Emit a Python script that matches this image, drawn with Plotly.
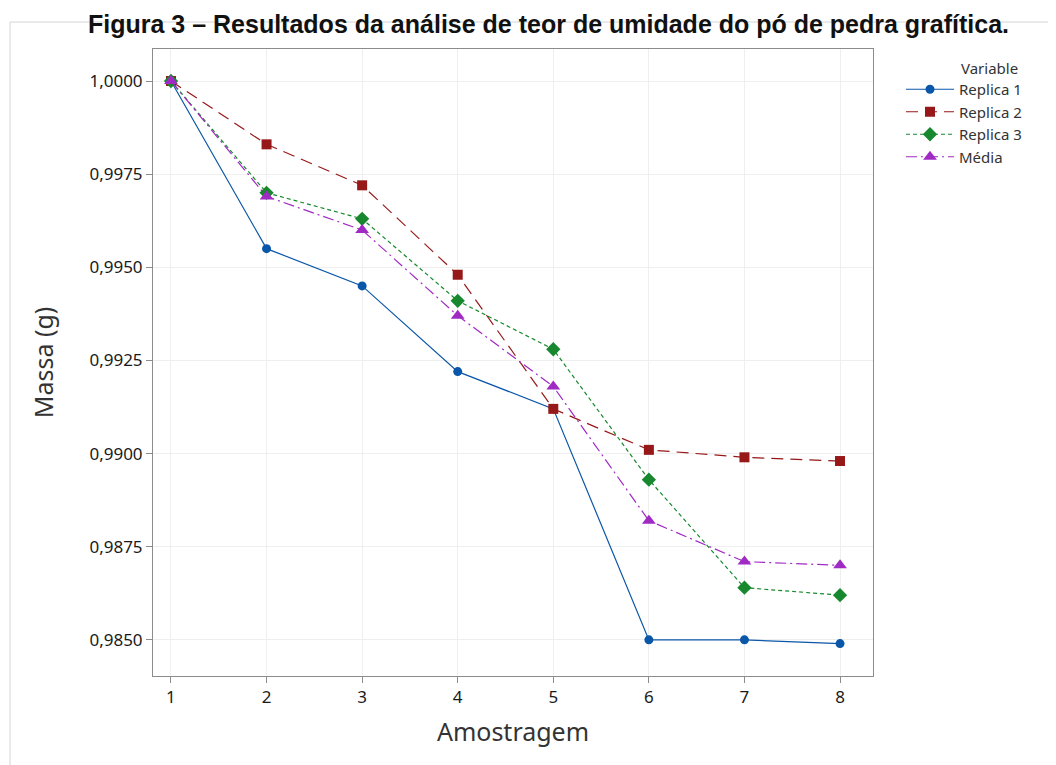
import plotly.graph_objects as go

amostragem = [1, 2, 3, 4, 5, 6, 7, 8]
replica1 = [1.0000, 0.9955, 0.9945, 0.9922, 0.9912, 0.9850, 0.9850, 0.9849]
replica2 = [1.0000, 0.9983, 0.9972, 0.9948, 0.9912, 0.9901, 0.9899, 0.9898]
replica3 = [1.0000, 0.9970, 0.9963, 0.9941, 0.9928, 0.9893, 0.9864, 0.9862]
media = [1.0000, 0.9969, 0.9960, 0.9937, 0.9918, 0.9882, 0.9871, 0.9870]
y_ticks = [0.985, 0.9875, 0.99, 0.9925, 0.995, 0.9975, 1.0]
y_tick_text = ["0,9850", "0,9875", "0,9900", "0,9925", "0,9950", "0,9975", "1,0000"]

series = [
    ("Replica 1", replica1, "#0a56a8", "solid", "circle", 9),
    ("Replica 2", replica2, "#961818", "12px,7px", "square", 10),
    ("Replica 3", replica3, "#17882d", "4px,3px", "diamond", 11),
    ("Média", media, "#a02ac4", "11px,4px,2px,4px", "triangle-up", 12),
]

fig = go.Figure()
for name, vals, col, dash, sym, sz in series:
    fig.add_trace(go.Scatter(
        x=amostragem, y=vals, name=name, mode="lines+markers",
        line=dict(color=col, width=1.2, dash=dash),
        marker=dict(color=col, symbol=sym, size=sz, line=dict(width=0)),
    ))

# page is offset by the 8px body margin; work in page pixels
OFF = 8
W, H = 1056 - OFF, 765 - OFF
L, T = 153 - OFF, 49 - OFF
R = 1056 - 873
B = 765 - 676
pw, ph = W - L - R, H - T - B


def px(x):
    return (x - OFF - L) / pw


def py(y):
    return 1 - (y - OFF - T) / ph


fig.update_layout(
    width=W, height=H,
    margin=dict(l=L, r=R, t=T, b=B),
    paper_bgcolor="white", plot_bgcolor="white",
    font=dict(family="Noto Sans, Open Sans, sans-serif", color="#222"),
    showlegend=True,
    legend=dict(
        x=px(901), y=py(73), xanchor="left", yanchor="top",
        font=dict(size=15, color="#333"), itemwidth=48,
        tracegroupgap=0, bgcolor="rgba(0,0,0,0)",
    ),
    xaxis=dict(
        range=[0.812, 8.345], tickvals=amostragem, ticktext=[str(a) for a in amostragem],
        showgrid=True, gridcolor="#efefef", gridwidth=1,
        showline=True, linecolor="#8c8c8c", linewidth=1, mirror=True,
        ticks="outside", ticklen=6, tickcolor="#8c8c8c",
        tickfont=dict(size=17, color="#1a1a1a"), zeroline=False,
        title=dict(text="Amostragem", font=dict(size=25, color="#333"), standoff=16),
    ),
    yaxis=dict(
        range=[0.98403, 1.000859], tickvals=y_ticks, ticktext=y_tick_text,
        showgrid=True, gridcolor="#efefef", gridwidth=1,
        showline=True, linecolor="#8c8c8c", linewidth=1, mirror=True,
        ticks="outside", ticklen=6, tickcolor="#8c8c8c",
        tickfont=dict(size=17, color="#1a1a1a"), zeroline=False,
        title=dict(text="Massa (g)", font=dict(size=25, color="#333"), standoff=28),
    ),
    shapes=[dict(
        type="rect", xref="paper", yref="paper",
        x0=px(10), x1=px(1070), y0=py(800), y1=py(22),
        line=dict(color="#d4d4d4", width=1), fillcolor="rgba(0,0,0,0)", layer="below",
    )],
    annotations=[
        dict(text="Variable", xref="paper", yref="paper", x=px(959), y=py(68),
             xanchor="left", yanchor="middle", showarrow=False,
             font=dict(size=15, color="#333")),
        dict(text="<b>Figura 3 – Resultados da análise de teor de umidade do pó de pedra grafítica.</b>",
             xref="paper", yref="paper", x=px(548), y=py(8.5),
             xanchor="center", yanchor="top", showarrow=False,
             font=dict(size=25, color="#111", family="Liberation Sans, Arial, sans-serif")),
    ],
)

fig.write_html("out.html")
